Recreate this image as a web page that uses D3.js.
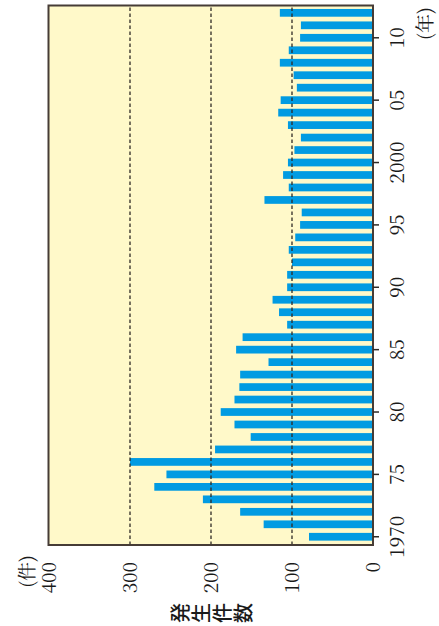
<!DOCTYPE html>
<html>
<head>
<meta charset="utf-8">
<script src="https://cdn.jsdelivr.net/npm/d3@7"></script>
<style>
  body { margin: 0; background: #fff; }
  svg { display: block; }
  .num { font-family: "Noto Serif CJK JP", "Liberation Serif", serif; font-size: 19px; fill: #1a1a1a; }
  .unit { font-family: "Noto Serif CJK JP", serif; font-size: 19px; fill: #1a1a1a; }
  .jp { font-family: "Noto Sans CJK JP", sans-serif; font-size: 20px; font-weight: 500; fill: #1a1a1a; }
</style>
</head>
<body>
<div id="chart"></div>
<script>
// data
var years = d3.range(1970, 2013);
var counts = [79, 135, 164, 210, 270, 255, 300, 195, 151, 171,
              188, 171, 165, 164, 129, 169, 161, 106, 116, 124,
              106, 106, 100, 104, 96, 90, 88, 134, 104, 111,
              105, 97, 89, 105, 117, 114, 94, 98, 115, 104,
              90, 89, 115];
var valueTicks = [0, 100, 200, 300, 400];
var yearTicks = [1970, 1975, 1980, 1985, 1990, 1995, 2000, 2005, 2010];
var yearLabels = ["1970", "75", "80", "85", "90", "95", "2000", "05", "10"];
var yTitle = ["発", "生", "件", "数"];

var W = 439, H = 626;

var svg = d3.select("#chart")
    .append("svg")
    .attr("width", W)
    .attr("height", H);

// the chart is an ordinary column chart, turned a quarter to the left
var g = svg.append("g")
    .attr("transform", "translate(0," + H + ") rotate(-90)");

var frame = {left: 81, right: 620.5, top: 48.5, bottom: 373};

var x = d3.scaleBand()
    .domain(years)
    .range([83, 619.4])
    .paddingInner(0.38)
    .paddingOuter(0.19);

var y = d3.scaleLinear()
    .domain([0, 400])
    .range([frame.bottom, 49]);

// plot background
g.append("rect")
    .attr("x", frame.left)
    .attr("y", frame.top)
    .attr("width", frame.right - frame.left)
    .attr("height", frame.bottom - frame.top)
    .attr("fill", "#fff9c9");

// bars
g.append("g")
    .selectAll("rect")
    .data(counts)
    .enter()
    .append("rect")
    .attr("x", function(d, i) { return x(years[i]); })
    .attr("width", x.bandwidth())
    .attr("y", function(d) { return y(d); })
    .attr("height", function(d) { return y(0) - y(d); })
    .attr("fill", "#019be2");

// dashed grid lines
g.append("g")
    .selectAll("line")
    .data(valueTicks.filter(function(d) { return d > 0 && d < 400; }))
    .enter()
    .append("line")
    .attr("x1", frame.left)
    .attr("x2", frame.right)
    .attr("y1", function(d) { return y(d); })
    .attr("y2", function(d) { return y(d); })
    .attr("stroke", "#2e2a26")
    .attr("stroke-width", 1.3)
    .attr("stroke-dasharray", "3.5,2.5");

// frame
g.append("rect")
    .attr("x", frame.left)
    .attr("y", frame.top)
    .attr("width", frame.right - frame.left)
    .attr("height", frame.bottom - frame.top)
    .attr("fill", "none")
    .attr("stroke", "#463c36")
    .attr("stroke-width", 2);

// year ticks + labels
var center = function(yr) { return x(yr) + x.bandwidth() / 2; };

g.append("g")
    .selectAll("line")
    .data(yearTicks)
    .enter()
    .append("line")
    .attr("x1", center)
    .attr("x2", center)
    .attr("y1", frame.bottom)
    .attr("y2", frame.bottom + 6)
    .attr("stroke", "#2e2a26")
    .attr("stroke-width", 1.5);

g.append("g")
    .selectAll("text")
    .data(yearTicks)
    .enter()
    .append("text")
    .attr("class", "num")
    .attr("x", center)
    .attr("y", 404)
    .attr("text-anchor", "middle")
    .text(function(d, i) { return yearLabels[i]; });

// value labels
g.append("g")
    .selectAll("text")
    .data(valueTicks)
    .enter()
    .append("text")
    .attr("class", "num")
    .attr("x", 64)
    .attr("y", function(d) { return y(d); })
    .attr("dy", "0.35em")
    .attr("text-anchor", "end")
    .text(function(d) { return d; });

// units
g.append("text")
    .attr("class", "unit")
    .attr("x", 71)
    .attr("y", 27)
    .attr("dy", "0.35em")
    .attr("text-anchor", "end")
    .text("(件)");

g.append("text")
    .attr("class", "unit")
    .attr("x", 586)
    .attr("y", 425)
    .attr("dy", "0.35em")
    .attr("text-anchor", "start")
    .text("(年)");

// axis title, upright characters stacked
g.append("g")
    .selectAll("text")
    .data(yTitle)
    .enter()
    .append("text")
    .attr("class", "jp")
    .attr("x", 13)
    .attr("y", function(d, i) { return 181 + i * 21; })
    .attr("dy", "0.35em")
    .attr("text-anchor", "middle")
    .text(function(d) { return d; });
</script>
</body>
</html>
